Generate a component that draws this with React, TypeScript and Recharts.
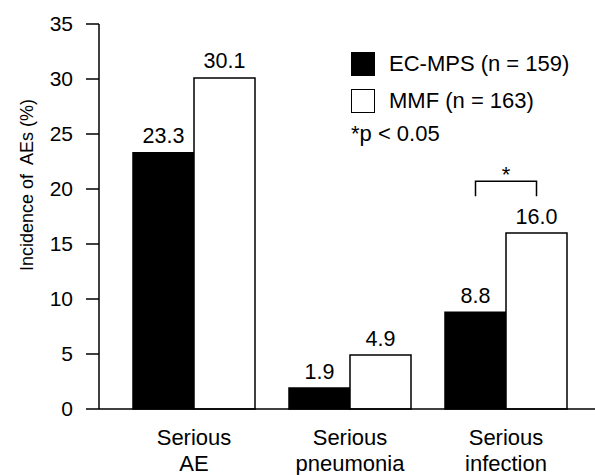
import { BarChart, Bar, XAxis, YAxis, Legend, LabelList, Label } from "recharts";

const categories = ["Serious AE", "Serious pneumonia", "Serious infection"];
const ecmpsValues = [23.3, 1.9, 8.8];
const mmfValues = [30.1, 4.9, 16.0];
const sigMarks = ["", "", "*"];
const sigLevels: Array<number | null> = [null, null, 20.7];
const yTicks = [0, 5, 10, 15, 20, 25, 30, 35];
const seriesNames = ["EC-MPS (n = 159)", "MMF (n = 163)"];
const footnote = "*p < 0.05";
const yTitle = "Incidence of  AEs (%)";

const data = categories.map((category, i) => ({
    category,
    ecmps: ecmpsValues[i],
    mmf: mmfValues[i]
}));

const FONT = '"Liberation Sans", Arial, Helvetica, sans-serif';

const CategoryTick = ({ x, y, payload }: any) => {
    const words = String(payload.value).split(" ");
    return (
        <text x={x} y={y} textAnchor="middle" fontFamily={FONT} fontSize={22} fill="#000">
            {words.map((w, i) => (
                <tspan key={i} x={x} dy={i === 0 ? 36 : 25.5}>
                    {w}
                </tspan>
            ))}
        </text>
    );
};

const YTitle = () => (
    <text
        x={33}
        y={185}
        transform="rotate(-90, 33, 185)"
        textAnchor="middle"
        fontFamily={FONT}
        fontSize={18}
        fill="#000"
        xmlSpace="preserve"
        style={{ whiteSpace: "pre" }}
    >
        {yTitle}
    </text>
);

// bracket + star over a pair, spanning the two bar centres
const SigBracket = (props: any) => {
    const { index, value } = props;
    const level = sigLevels[index];
    if (level == null) return null;
    const vb = props.viewBox ?? props;
    const { x, y, width, height } = vb;
    const base = y + height;
    const ppu = height / Number(value);
    const yTop = base - level * ppu;
    const yLow = base - (level - 1.35) * ppu;
    const x1 = x - width / 2;
    const x2 = x + width / 2;
    return (
        <g>
            <polyline
                points={`${x1},${yLow} ${x1},${yTop} ${x2},${yTop} ${x2},${yLow}`}
                fill="none"
                stroke="#000"
                strokeWidth={1.5}
            />
            <text x={(x1 + x2) / 2} y={yTop + 1} textAnchor="middle" fontFamily={FONT} fontSize={22} fill="#000">
                {sigMarks[index]}
            </text>
        </g>
    );
};

const LegendBox = () => (
    <div style={{ fontFamily: FONT, fontSize: 22, color: "#000" }}>
        {seriesNames.map((name, i) => (
            <div key={name} style={{ display: "flex", alignItems: "center", height: 37 }}>
                <span
                    style={{
                        display: "inline-block",
                        width: 22,
                        height: 22,
                        background: i === 0 ? "#000" : "#fff",
                        border: "1px solid #000",
                        marginRight: 14
                    }}
                />
                <span>{name}</span>
            </div>
        ))}
        <div style={{ lineHeight: "25px", marginTop: 1 }}>{footnote}</div>
    </div>
);

const fmt = (v: any) => Number(v).toFixed(1);

export default function App() {
    return (
        <div>
            <style>{"body{margin:0;overflow:hidden}"}</style>
            <BarChart
                width={595}
                height={475}
                data={data}
                margin={{ top: 24, right: 0, bottom: 0, left: 0 }}
                barGap={0}
                barSize={61}
            >
                <XAxis
                    dataKey="category"
                    height={66}
                    padding={{ left: 17, right: 11 }}
                    tickLine={false}
                    tickSize={0}
                    tickMargin={0}
                    axisLine={{ stroke: "#000", strokeWidth: 1.5 }}
                    tick={<CategoryTick />}
                    interval={0}
                />
                <YAxis
                    width={99}
                    domain={[0, 35]}
                    ticks={yTicks}
                    tickSize={13}
                    tickMargin={13}
                    axisLine={{ stroke: "#000", strokeWidth: 1.5 }}
                    tickLine={{ stroke: "#000", strokeWidth: 1.5 }}
                    tick={{ fill: "#000", fontSize: 21, fontFamily: FONT }}
                    label={<Label content={<YTitle />} />}
                />
                <Legend
                    layout="vertical"
                    align="center"
                    verticalAlign="middle"
                    content={<LegendBox />}
                    wrapperStyle={{ top: 45.5, left: 351, width: "auto", height: "auto" }}
                />
                <Bar dataKey="ecmps" name={seriesNames[0]} fill="#000" stroke="#000" strokeWidth={1.5} isAnimationActive={false}>
                    <LabelList dataKey="ecmps" position="top" offset={9.5} formatter={fmt} fill="#000" fontSize={21.5} fontFamily={FONT} />
                </Bar>
                <Bar dataKey="mmf" name={seriesNames[1]} fill="#fff" stroke="#000" strokeWidth={1.5} isAnimationActive={false}>
                    <LabelList dataKey="mmf" position="top" offset={9.5} formatter={fmt} fill="#000" fontSize={21.5} fontFamily={FONT} />
                    <LabelList dataKey="mmf" content={<SigBracket />} />
                </Bar>
            </BarChart>
        </div>
    );
}
